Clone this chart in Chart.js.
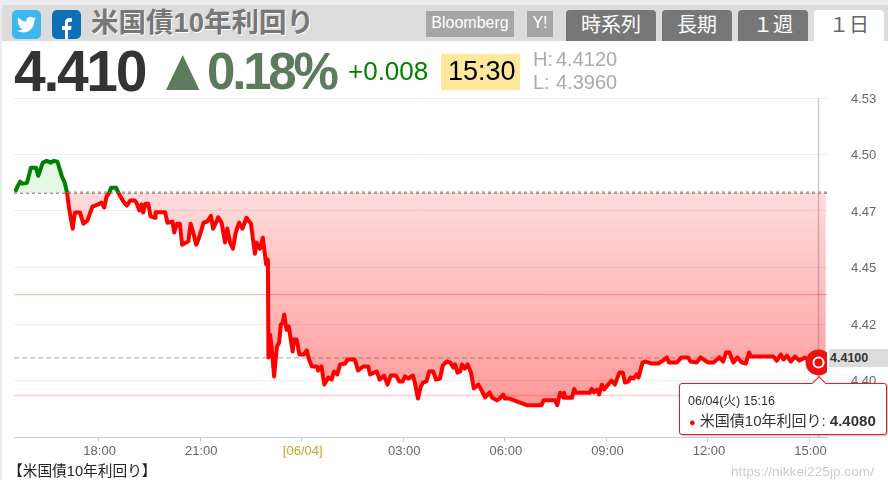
<!DOCTYPE html>
<html lang="ja">
<head>
<meta charset="utf-8">
<title>米国債10年利回り</title>
<script src="https://cdn.jsdelivr.net/npm/chart.js@4/dist/chart.umd.min.js"></script>
<style>
    * { box-sizing: border-box; }
    html, body { margin: 0; width: 888px; height: 480px; overflow: hidden; background: #fff; }
    body { position: relative; font-family: "Liberation Sans", Arial, "Noto Sans CJK JP", sans-serif; }
    canvas { position: absolute; left: 0; top: 0; }
    .abs { position: absolute; white-space: pre; line-height: 1; }
    .jp { font-family: "Liberation Sans", "Noto Sans CJK JP", sans-serif; }
    .tab { position: absolute; top: 10px; height: 31px; border-radius: 4px 4px 0 0; background: #777; color: #fff; font-size: 20px; line-height: 31px; text-align: center; }
    .tab.on { background: #fff; color: #666; }
    .src { position: absolute; top: 11px; height: 26px; background: #a6a6a6; color: #fff; font-size: 16px; line-height: 24px; text-align: center; }
    .tip { position: absolute; left: 679px; top: 383px; width: 208px; height: 52px; background: #fff; border: 1.5px solid #f01818; border-radius: 3px; box-shadow: 1px 1px 2px rgba(0,0,0,.25); color: #333; }
    .tip i { position: absolute; left: 134px; top: -6px; width: 10px; height: 10px; background: #fff; border-left: 1.5px solid #f01818; border-top: 1.5px solid #f01818; transform: rotate(45deg); }
</style>
</head>
<body>
<canvas id="chart" width="888" height="480"></canvas>

<div style="position:absolute;left:0;top:0;width:888px;height:5px;background:#ebebeb"></div>
<div style="position:absolute;left:0;top:0;width:2px;height:480px;background:#ebebeb"></div>
<div style="position:absolute;left:2px;top:5px;width:886px;height:36px;background:#dcdcdc"></div>

<svg style="position:absolute;left:12px;top:10px" width="29" height="29" viewBox="0 0 29 29">
    <rect width="29" height="29" rx="5" fill="#3db7ed"/>
    <path transform="translate(5 5) scale(.8)" fill="#fff" d="M23.953 4.57a10 10 0 01-2.825.775 4.958 4.958 0 002.163-2.723c-.951.555-2.005.959-3.127 1.184a4.92 4.92 0 00-8.384 4.482C7.69 8.095 4.067 6.13 1.64 3.162a4.822 4.822 0 00-.666 2.475c0 1.71.87 3.213 2.188 4.096a4.904 4.904 0 01-2.228-.616v.06a4.923 4.923 0 003.946 4.827 4.996 4.996 0 01-2.212.085 4.936 4.936 0 004.604 3.417 9.867 9.867 0 01-6.102 2.105c-.39 0-.779-.023-1.17-.067a13.995 13.995 0 007.557 2.209c9.053 0 13.998-7.496 13.998-13.985 0-.21 0-.42-.015-.63A9.935 9.935 0 0024 4.59z"/>
</svg>
<svg style="position:absolute;left:52px;top:10px" width="29" height="29" viewBox="0 0 29 29">
    <rect width="29" height="29" rx="5" fill="#0f6fb5"/>
    <path transform="translate(3 5) scale(1)" fill="#fff" d="M13 24v-9h3l.5-4H13V8.500c0-1.100.4-1.800 1.900-1.800H17V3.200c-.5 0-1.700-.2-2.800-.2C11.700 3 10 4.500 10 7.600V11H7v4h3v9z"/>
</svg>

<div class="abs jp" style="left:91px;top:9px;font-size:27.500px;font-weight:bold;color:#777;text-shadow:1px 1px 0 #fff">米国債10年利回り</div>
<div class="src" style="left:426px;width:88px">Bloomberg</div>
<div class="src" style="left:527px;width:26px">Y!</div>
<div class="tab jp" style="left:566px;width:90px">時系列</div>
<div class="tab jp" style="left:662px;width:70px">長期</div>
<div class="tab jp" style="left:738px;width:70px">１週</div>
<div class="tab jp on" style="left:814px;width:70px">１日</div>

<div class="abs" style="left:14px;top:43px;font-size:57px;font-weight:bold;color:#333;letter-spacing:-2.3px">4.410</div>
<div class="abs jp" style="left:153px;top:40px;font-size:60px;color:#5c7a5c;transform:scaleX(.95)">▲</div>
<div class="abs" style="left:207px;top:46px;font-size:51px;font-weight:bold;color:#5c7a5c;letter-spacing:-3.200px">0.18%</div>
<div class="abs" style="left:348px;top:58px;font-size:26px;color:#008000">+0.008</div>
<div style="position:absolute;left:441px;top:54px;width:79px;height:36px;background:#ffe89b"></div>
<div class="abs" style="left:448px;top:58px;font-size:27px;color:#000">15:30</div>
<div class="abs" style="left:533px;top:49px;font-size:20px;color:#aaa">H:</div>
<div class="abs" style="left:556px;top:49px;font-size:20px;color:#aaa">4.4120</div>
<div class="abs" style="left:533px;top:72px;font-size:20px;color:#aaa">L:</div>
<div class="abs" style="left:556px;top:72px;font-size:20px;color:#aaa">4.3960</div>

<div class="abs" style="left:829px;top:349px;width:59px;height:18px;background:#dcdcdc"></div>
<div class="abs" style="left:830px;top:352px;font-size:12.500px;font-weight:bold;color:#333">4.4100</div>

<div class="tip">
    <i></i>
    <div class="abs jp" style="left:8px;top:11px;font-size:12.500px">06/04(火) 15:16</div>
    <div class="abs jp" style="left:9px;top:29px;font-size:15px"><span style="color:#f00;font-size:11px">●</span> 米国債10年利回り: <b>4.4080</b></div>
</div>

<div class="abs jp" style="left:8px;top:464px;font-size:14.700px;color:#222">【米国債10年利回り】</div>
<div class="abs" style="left:731px;top:465px;font-size:13.700px;color:#ccc">https://nikkei225jp.com/</div>

<script>
// minutes after 15:30 on 06/03
const minutes = [
    2, 6, 11, 15, 23, 30, 39, 43, 51, 58, 65, 71, 77, 85, 90, 94, 98, 104, 108, 117,
    123, 130, 139, 148, 155, 160, 164, 169, 172, 181, 185, 194, 200, 206, 214, 217, 222, 226, 229, 233,
    238, 242, 250, 251, 268, 272, 281, 284, 289, 294, 298, 309, 313, 317, 323, 328, 336, 343, 349, 353,
    358, 362, 368, 374, 378, 383, 388, 393, 399, 405, 412, 420, 427, 430, 436, 441, 447, 450, 451, 454,
    457, 461, 466, 470, 473, 476, 479, 483, 487, 494, 496, 501, 506, 514, 519, 523, 528, 537, 539, 545,
    550, 557, 563, 567, 573, 578, 587, 591, 604, 610, 619, 628, 631, 643, 648, 656, 662, 668, 677, 683,
    689, 693, 699, 707, 710, 716, 721, 725, 731, 736, 743, 748, 755, 760, 767, 773, 779, 782, 786, 791,
    794, 799, 804, 810, 815, 823, 827, 835, 843, 847, 856, 861, 867, 870, 878, 909, 935, 939, 959, 963,
    968, 974, 975, 977, 989, 993, 996, 1021, 1024, 1028, 1033, 1037, 1042, 1046, 1059, 1065, 1073, 1079, 1083, 1089,
    1093, 1098, 1104, 1107, 1114, 1120, 1130, 1142, 1150, 1157, 1161, 1175, 1183, 1195, 1199, 1210, 1217, 1225, 1231, 1240,
    1250, 1257, 1262, 1268, 1275, 1282, 1290, 1297, 1303, 1306, 1346, 1352, 1359, 1364, 1370, 1377, 1384, 1392, 1402, 1411,
    1420, 1426, 1439
];
const yields = [
    4.4835, 4.4857, 4.4880, 4.4871, 4.4875, 4.4941, 4.4941, 4.4906, 4.4964, 4.4972, 4.4964, 4.4972, 4.4968, 4.4902, 4.4875, 4.4831, 4.4756, 4.4672, 4.4743, 4.4743,
    4.4694, 4.4707, 4.4769, 4.4778, 4.4787, 4.4765, 4.4813, 4.4831, 4.4853, 4.4853, 4.4831, 4.4791, 4.4774, 4.4796, 4.4796, 4.4787, 4.4753, 4.4778, 4.4743, 4.4782,
    4.4782, 4.4726, 4.4720, 4.4744, 4.4744, 4.4698, 4.4703, 4.4655, 4.4694, 4.4694, 4.4601, 4.4616, 4.4694, 4.4660, 4.4601, 4.4632, 4.4698, 4.4704, 4.4729, 4.4672,
    4.4698, 4.4722, 4.4698, 4.4611, 4.4672, 4.4610, 4.4583, 4.4654, 4.4698, 4.4672, 4.4720, 4.4694, 4.4561, 4.4610, 4.4583, 4.4632, 4.4513, 4.4535, 4.4102, 4.4203,
    4.4137, 4.4018, 4.4150, 4.4168, 4.4248, 4.4252, 4.4292, 4.4225, 4.4239, 4.4128, 4.4181, 4.4181, 4.4115, 4.4115, 4.4133, 4.4093, 4.4062, 4.4062, 4.4044, 4.4062,
    4.3982, 4.4013, 4.4004, 4.4040, 4.4027, 4.4071, 4.4075, 4.4093, 4.4093, 4.4044, 4.4062, 4.4062, 4.4027, 4.4040, 4.4004, 4.4022, 4.3982, 4.4022, 4.4022, 4.3996,
    4.3996, 4.4018, 4.4009, 4.4022, 4.3996, 4.3920, 4.3973, 4.3991, 4.3996, 4.4040, 4.4040, 4.4004, 4.4009, 4.4066, 4.4084, 4.4080, 4.4057, 4.4071, 4.4035, 4.4040,
    4.4071, 4.4053, 4.4071, 4.4035, 4.3965, 4.3982, 4.3965, 4.3925, 4.3947, 4.3925, 4.3912, 4.3920, 4.3938, 4.3920, 4.3920, 4.3891, 4.3891, 4.3913, 4.3913, 4.3891,
    4.3946, 4.3924, 4.3946, 4.3924, 4.3924, 4.3963, 4.3946, 4.3946, 4.3963, 4.3947, 4.3960, 4.3938, 4.3982, 4.3960, 4.4000, 4.3982, 4.4035, 4.4035, 4.3991, 4.3996,
    4.4013, 4.4009, 4.4027, 4.4013, 4.4080, 4.4084, 4.4075, 4.4075, 4.4088, 4.4102, 4.4080, 4.4080, 4.4102, 4.4102, 4.4084, 4.4080, 4.4102, 4.4088, 4.4080, 4.4080,
    4.4102, 4.4084, 4.4124, 4.4124, 4.4080, 4.4102, 4.4080, 4.4075, 4.4124, 4.4106, 4.4106, 4.4088, 4.4115, 4.4093, 4.4110, 4.4084, 4.4106, 4.4088, 4.4102, 4.4084,
    4.4102, 4.4080, 4.4100
];

const tickMinutes = [150, 330, 510, 690, 870, 1050, 1230, 1410];
const tickLabels = ['18:00', '21:00', '[06/04]', '03:00', '06:00', '09:00', '12:00', '15:00'];
const yTickLabels = ['', '4.40', '4.42', '4.45', '4.47', '4.50', '4.53'];

const baseValue = 4.4831;
const currentValue = 4.41;
const highValue = 4.438;
const lowValue = 4.3934;
const hoverMinute = 1426;
const hoverValue = 4.408;

const xMax = 1441;
const yMin = 4.375;
const yMax = 4.525;

const colors = {
    up: '#008000',
    down: '#ff0000',
    grid: '#eeeeee',
    axis: '#c0d2e4',
    label: '#666666',
    date: '#c9a227'
};

function hline(value, color, width, dash, order) {
    return {
        data: [{ x: 0, y: value }, { x: xMax, y: value }],
        borderColor: color,
        borderWidth: width,
        borderDash: dash,
        pointRadius: 0,
        fill: false,
        order
    };
}

document.addEventListener('DOMContentLoaded', () => {
    const canvas = document.getElementById('chart');
    const ctx = canvas.getContext('2d');

    const downFill = ctx.createLinearGradient(0, 193, 0, 405);
    downFill.addColorStop(0, 'rgba(255, 0, 0, 0.14)');
    downFill.addColorStop(1, 'rgba(255, 0, 0, 0.4)');

    new Chart(canvas, {
        type: 'line',
        data: {
            datasets: [
                {
                    data: [{ x: hoverMinute, y: hoverValue }],
                    pointRadius: 5,
                    pointBackgroundColor: colors.down,
                    pointBorderColor: '#ffffff',
                    pointBorderWidth: 2,
                    showLine: false,
                    order: 0
                },
                {
                    data: [{ x: hoverMinute, y: hoverValue }],
                    pointRadius: 13,
                    pointBackgroundColor: '#f01010',
                    pointBorderWidth: 0,
                    showLine: false,
                    order: 1
                },
                {
                    data: minutes.map((minute, index) => ({ x: minute, y: yields[index] })),
                    borderWidth: 4,
                    borderColor: colors.down,
                    pointRadius: 0,
                    tension: 0,
                    borderJoinStyle: 'round',
                    fill: {
                        target: { value: baseValue },
                        above: '#e4f8e4',
                        below: downFill
                    },
                    segment: {
                        borderColor: (seg) => (seg.p0.parsed.y > baseValue || seg.p1.parsed.y > baseValue ? colors.up : colors.down)
                    },
                    order: 2
                },
                hline(currentValue, 'rgba(110, 110, 140, 0.6)', 1, [5, 3], 3),
                hline(baseValue, '#999999', 2.5, [3, 3], 3),
                hline(highValue, 'rgba(255, 0, 0, 0.35)', 1, [], 4),
                hline(lowValue, 'rgba(255, 0, 0, 0.2)', 1.5, [], 4),
                {
                    data: [{ x: hoverMinute, y: yMin }, { x: hoverMinute, y: yMax }],
                    borderColor: '#cccccc',
                    borderWidth: 1.5,
                    pointRadius: 0,
                    fill: false,
                    order: 5
                }
            ]
        },
        options: {
            responsive: false,
            animation: false,
            events: [],
            layout: { padding: { left: 14, top: 98, right: 0, bottom: 0 } },
            plugins: { legend: { display: false }, tooltip: { enabled: false } },
            scales: {
                x: {
                    type: 'linear',
                    min: 0,
                    max: xMax,
                    afterBuildTicks: (scale) => {
                        scale.ticks = tickMinutes.map((value) => ({ value }));
                    },
                    afterFit: (scale) => {
                        scale.height = 43;
                    },
                    border: { color: colors.axis, width: 1 },
                    grid: { drawOnChartArea: false, tickLength: 5, tickColor: colors.axis },
                    ticks: {
                        autoSkip: false,
                        maxRotation: 0,
                        padding: 2,
                        labelOffset: 1,
                        font: { family: '"Liberation Sans"', size: 13 },
                        color: (context) => (context.index === 2 ? colors.date : colors.label),
                        callback: (value, index) => tickLabels[index]
                    }
                },
                y: {
                    position: 'right',
                    min: yMin,
                    max: yMax,
                    afterFit: (scale) => {
                        scale.width = 61;
                    },
                    border: { display: false },
                    grid: { color: colors.grid, drawTicks: false },
                    ticks: {
                        stepSize: 0.025,
                        padding: 24,
                        labelOffset: 1,
                        font: { family: '"Liberation Sans"', size: 13 },
                        color: colors.label,
                        callback: (value, index) => yTickLabels[index]
                    }
                }
            }
        }
    });
});
</script>
</body>
</html>
